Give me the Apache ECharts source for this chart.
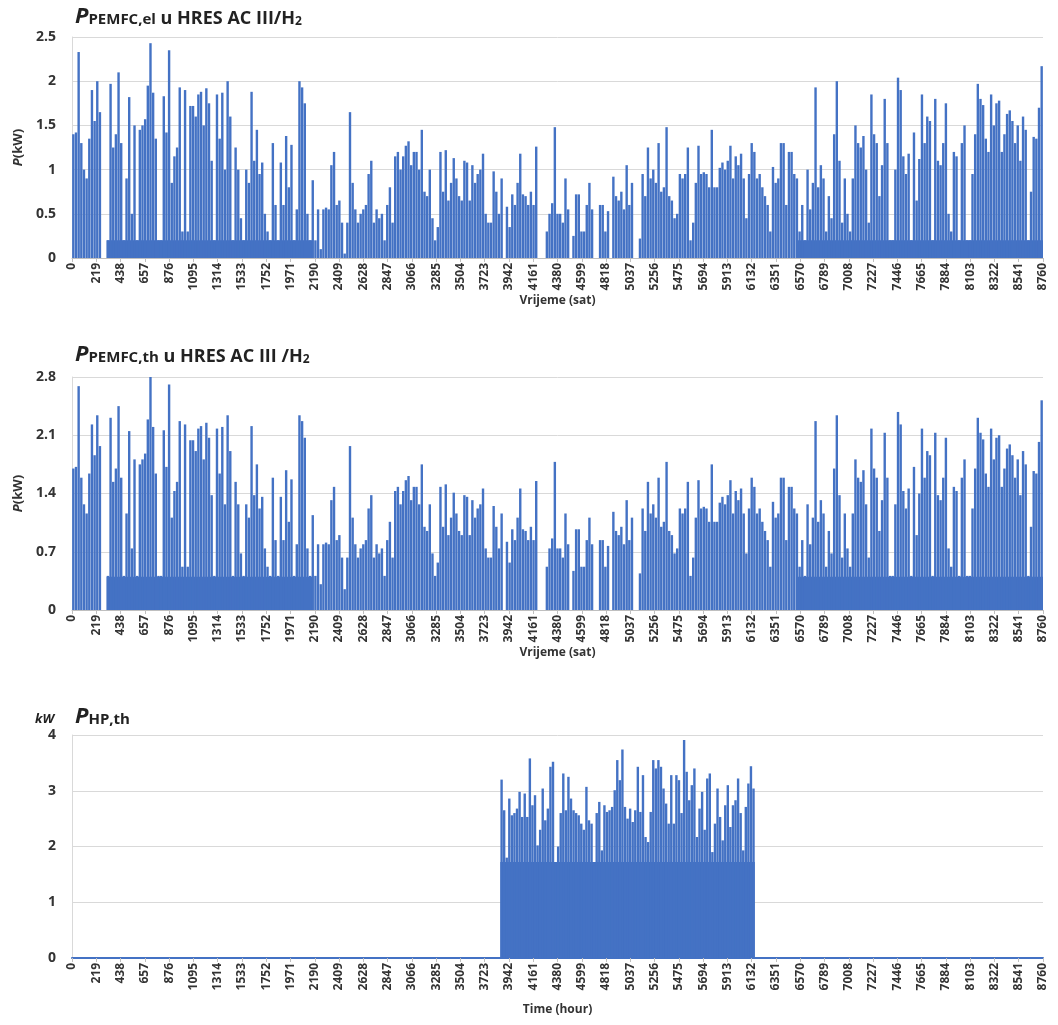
<!DOCTYPE html>
<html><head><meta charset="utf-8">
<script src="https://cdn.jsdelivr.net/npm/echarts@6/dist/echarts.min.js"></script>
<style>html,body{margin:0;padding:0;background:#fff}#c{width:1058px;height:1025px}</style>
</head><body><div id="c"></div>
<script>
// ---- data (daily peak values, hours 0..8760) ----
const HOURS_MAX = 8760;
const HOUR_TICK = 219;
const DAY_HOURS = 24;

// P PEMFC,el (kW), one value per day
const elDaily = [
1.4,1.42,2.33,1.3,1.0,0.9,1.35,1.9,1.55,2.0,
1.65,0,0,0.2,1.97,1.25,1.4,2.1,1.3,0.2,
0.9,1.82,0.5,1.5,0.2,1.45,1.5,1.57,1.95,2.43,
1.87,1.35,0.2,0.2,1.83,1.42,2.35,0.85,1.15,1.25,
1.93,0.3,1.9,0.3,1.72,1.72,1.6,1.85,1.88,1.5,
1.92,1.75,1.1,0.2,1.85,1.35,1.87,1.0,2.0,1.6,
0.2,1.25,1.0,0.45,0.2,1.0,0.85,1.88,1.1,1.45,
0.95,1.08,0.5,0.3,0.2,1.3,0.6,0.2,1.08,0.6,
1.38,0.8,1.28,0.2,0.55,2.0,1.93,1.75,0.5,0.2,
0.88,0.2,0.55,0.1,0.55,0.57,0.55,1.05,1.2,0.6,
0.65,0.4,0.05,0.4,1.65,0.85,0.55,0.4,0.5,0.55,
0.6,0.95,1.1,0.4,0.55,0.45,0.5,0.2,0.6,0.8,
0.4,1.15,1.2,1.0,1.15,1.27,1.32,1.05,1.2,1.2,
1.0,1.45,0.75,0.7,1.0,0.45,0.2,0.35,1.2,0.75,
1.22,0.65,0.85,1.13,0.9,0.7,0.65,1.1,1.08,0.65,
1.05,0.85,0.95,1.0,1.18,0.5,0.4,0.4,0.98,0.75,
0.5,0.9,0,0.58,0.35,0.72,0.6,0.85,1.18,0.72,
0.7,0.6,0.75,0.6,1.26,0,0,0,0.3,0.5,
0.62,1.48,0.5,0.5,0.4,0.9,0.55,0,0.25,0.72,
0.72,0.3,0.3,0.6,0.85,0.55,0,0,0.6,0.6,
0.3,0.53,0,0.92,0.7,0.65,0.75,0.55,1.05,0.6,
0.85,0,0,0.22,0.95,0.7,1.25,0.9,1.0,0.85,
1.3,0.75,0.8,1.48,0.7,0.65,0.45,0.5,0.95,0.9,
0.95,1.25,0.2,0.4,0.85,1.27,0.95,0.97,0.95,0.8,
1.45,0.8,0.8,1.02,1.08,1.0,1.1,1.27,0.9,1.15,
1.05,1.18,0.9,0.45,0.95,1.3,1.2,0.9,0.95,0.8,
0.7,0.6,0.3,1.03,0.85,0.9,1.3,1.3,0.6,1.2,
1.2,0.95,0.9,0.3,0.6,0.2,1.0,0.55,0.85,1.93,
0.8,1.05,0.9,0.3,0.7,0.45,1.4,2.0,1.1,0.4,
0.9,0.5,0.3,0.9,1.5,1.3,1.25,1.38,1.0,0.4,
1.85,1.4,1.3,0.7,1.05,1.8,1.3,0.2,0.2,1.0,
2.04,1.9,1.15,0.95,1.18,0.2,1.42,0.65,1.12,1.85,
1.3,1.6,1.55,0.2,1.8,1.1,1.05,1.3,1.75,0.5,
0.3,1.2,1.15,0.2,1.3,1.5,0.2,0.2,0.95,1.4,
1.97,1.8,1.73,1.35,1.2,1.85,1.5,1.75,1.78,1.2,
1.4,1.63,1.67,1.55,1.3,1.5,1.1,1.6,1.45,0.2,
0.75,1.37,1.35,1.7,2.17
];

// P PEMFC,th (kW), one value per day
const thDaily = [
1.7,1.72,2.69,1.59,1.27,1.16,1.64,2.23,1.86,2.34,
1.97,0,0,0.41,2.31,1.54,1.7,2.45,1.59,0.41,
1.16,2.15,0.74,1.81,0.41,1.75,1.81,1.88,2.29,2.8,
2.2,1.64,0.41,0.41,2.16,1.72,2.71,1.11,1.43,1.54,
2.27,0.52,2.23,0.52,2.04,2.04,1.91,2.18,2.21,1.81,
2.25,2.07,1.38,0.41,2.18,1.64,2.2,1.27,2.34,1.91,
0.41,1.54,1.27,0.68,0.41,1.27,1.11,2.21,1.38,1.75,
1.22,1.36,0.74,0.52,0.41,1.59,0.84,0.41,1.36,0.84,
1.68,1.06,1.57,0.41,0.79,2.34,2.27,2.07,0.74,0.41,
1.14,0.41,0.79,0.31,0.79,0.81,0.79,1.32,1.48,0.84,
0.9,0.63,0.25,0.63,1.97,1.11,0.79,0.63,0.74,0.79,
0.84,1.22,1.38,0.63,0.79,0.68,0.74,0.41,0.84,1.06,
0.63,1.43,1.48,1.27,1.43,1.56,1.61,1.32,1.48,1.48,
1.27,1.75,1.0,0.95,1.27,0.68,0.41,0.57,1.48,1.0,
1.51,0.9,1.11,1.41,1.16,0.95,0.9,1.38,1.36,0.9,
1.32,1.11,1.22,1.27,1.46,0.74,0.63,0.63,1.25,1.0,
0.74,1.16,0,0.82,0.57,0.97,0.84,1.11,1.46,0.97,
0.95,0.84,1.0,0.84,1.55,0,0,0,0.52,0.74,
0.86,1.78,0.74,0.74,0.63,1.16,0.79,0,0.47,0.97,
0.97,0.52,0.52,0.84,1.11,0.79,0,0,0.84,0.84,
0.52,0.77,0,1.18,0.95,0.9,1.0,0.79,1.32,0.84,
1.11,0,0,0.44,1.22,0.95,1.54,1.16,1.27,1.11,
1.59,1.0,1.06,1.78,0.95,0.9,0.68,0.74,1.22,1.16,
1.22,1.54,0.41,0.63,1.11,1.56,1.22,1.24,1.22,1.06,
1.75,1.06,1.06,1.29,1.36,1.27,1.38,1.56,1.16,1.43,
1.32,1.46,1.16,0.68,1.22,1.59,1.48,1.16,1.22,1.06,
0.95,0.84,0.52,1.3,1.11,1.16,1.59,1.59,0.84,1.48,
1.48,1.22,1.16,0.52,0.84,0.41,1.27,0.79,1.11,2.27,
1.06,1.32,1.16,0.52,0.95,0.68,1.7,2.34,1.38,0.63,
1.16,0.74,0.52,1.16,1.81,1.59,1.54,1.68,1.27,0.63,
2.18,1.7,1.59,0.95,1.32,2.13,1.59,0.41,0.41,1.27,
2.38,2.23,1.43,1.22,1.46,0.41,1.72,0.9,1.4,2.18,
1.59,1.91,1.86,0.41,2.13,1.38,1.32,1.59,2.07,0.74,
0.52,1.48,1.43,0.41,1.59,1.81,0.41,0.41,1.22,1.7,
2.31,2.13,2.05,1.64,1.48,2.18,1.81,2.07,2.1,1.48,
1.7,1.94,1.99,1.86,1.59,1.81,1.38,1.91,1.75,0.41,
1.0,1.67,1.64,2.02,2.52
];

// continuous base-load segments [startHour, endHour, kW]
const elFloor = [[312, 2170, 0.2], [6550, 8760, 0.2]];
const thFloor = [[312, 2170, 0.4], [6550, 8760, 0.4]];

// P HP,th (kW): operates only between these hours, peaks in order
const hpStartHour = 3864;
const hpEndHour = 6160;
const hpPeaks = [
3.2,2.65,1.8,2.86,2.56,2.6,2.68,2.98,2.53,2.95,
2.53,3.58,2.74,2.92,2.02,2.3,3.04,2.47,2.68,3.43,
3.52,1.72,2.0,2.6,3.31,2.65,3.25,2.86,2.65,2.6,
2.56,2.41,2.3,3.07,2.47,2.41,1.66,2.6,2.8,1.93,
2.74,2.62,2.65,2.71,3.01,3.55,3.19,3.74,2.71,2.5,
2.68,2.44,2.65,3.43,2.62,3.28,2.17,2.08,2.62,3.55,
3.4,3.55,3.43,3.04,2.77,2.41,3.28,2.41,3.28,3.19,
2.6,3.91,3.34,2.83,3.1,3.4,2.17,2.68,2.98,2.3,
3.22,3.31,1.9,2.41,3.04,2.53,2.11,2.74,3.1,2.35,
2.74,2.83,3.22,2.6,1.93,2.71,3.13,3.44,3.04
];
const hpFloor = [[3864, 6160, 1.72]];

// ---- chart ----
const BLUE = '#4472C4';
const FONT = '"Open Sans", Lato, "Liberation Sans", sans-serif';
const chart = echarts.init(document.getElementById('c'), null, {renderer: 'canvas'});

const grids = [
  {left: 72, right: 15, top: 37, height: 221},
  {left: 72, right: 15, top: 377, height: 233},
  {left: 72, right: 15, top: 735, height: 223}
];
const yCfg = [
  {max: 2.5, interval: 0.5, name: '{i|P}(kW)'},
  {max: 2.8, interval: 0.7, name: '{i|P}(kW)'},
  {max: 4, interval: 1, name: ''}
];
const xNames = ['Vrijeme (sat)', 'Vrijeme (sat)', 'Time (hour)'];
const xNameGaps = [22, 22, 46];

function xAxis(i) {
  return {
    gridIndex: i, type: 'value', min: 0, max: HOURS_MAX, interval: HOUR_TICK,
    name: xNames[i], nameLocation: 'middle', nameGap: xNameGaps[i],
    nameTextStyle: {fontFamily: FONT, fontWeight: 'bold', fontSize: 12, color: '#333',
      backgroundColor: '#fff', padding: [0, 3]},
    axisLine: {show: true, lineStyle: {color: i === 2 ? BLUE : '#bfbfbf', width: i === 2 ? 2 : 1}},
    axisTick: {show: true, length: 4, lineStyle: {color: '#bfbfbf'}},
    axisLabel: {rotate: 90, margin: 5, fontFamily: FONT, fontWeight: 'bold', fontSize: 12, color: '#333',
      showMinLabel: true, showMaxLabel: true, formatter: v => String(v)},
    splitLine: {show: false}
  };
}
function yAxis(i) {
  const c = yCfg[i];
  return {
    gridIndex: i, type: 'value', min: 0, max: c.max, interval: c.interval,
    name: c.name, nameLocation: 'middle', nameGap: 45, nameRotate: 90,
    nameTextStyle: {fontFamily: FONT, fontWeight: 'bold', fontSize: 13, color: '#333',
      rich: {i: {fontFamily: FONT, fontWeight: 'bold', fontStyle: 'italic', fontSize: 13, color: '#333'}}},
    axisLine: {show: true, lineStyle: {color: '#d9d9d9'}},
    axisTick: {show: false},
    axisLabel: {margin: 16, fontFamily: FONT, fontWeight: 'bold', fontSize: 14, color: '#333',
      formatter: v => String(Math.round(v * 10) / 10)},
    splitLine: {show: true, lineStyle: {color: '#d9d9d9', width: 1}}
  };
}
function barSeries(i, data) {
  return {type: 'bar', xAxisIndex: i, yAxisIndex: i, data: data, barWidth: 2.4,
    itemStyle: {color: BLUE}, silent: true, animation: false, z: 3};
}
function floorSeries(i, segs) {
  return segs.map(s => ({
    type: 'line', xAxisIndex: i, yAxisIndex: i, data: [[s[0], s[2]], [s[1], s[2]]],
    showSymbol: false, lineStyle: {width: 0}, areaStyle: {color: BLUE, opacity: 1},
    silent: true, animation: false, z: 2
  }));
}
const dayData = arr => arr.map((v, d) => [d * DAY_HOURS + DAY_HOURS / 2, v]);
const hpStep = (hpEndHour - hpStartHour) / hpPeaks.length;
const hpData = hpPeaks.map((v, k) => [hpStartHour + (k + 0.5) * hpStep, v]);

const titleRich = {
  p: {fontFamily: FONT, fontSize: 22, fontWeight: 'bold', fontStyle: 'italic', color: '#222'},
  s: {fontFamily: FONT, fontSize: 15, fontWeight: 'bold', color: '#222', padding: [6, 0, 0, 0]},
  t: {fontFamily: FONT, fontSize: 18, fontWeight: 'bold', color: '#222', padding: [3, 0, 0, 0]},
  d: {fontFamily: FONT, fontSize: 12, fontWeight: 'bold', color: '#222', padding: [9, 0, 0, 0]},
  k: {fontFamily: FONT, fontSize: 13, fontWeight: 'bold', fontStyle: 'italic', color: '#222', padding: [5, 0, 0, 0]}
};

chart.setOption({
  backgroundColor: '#fff',
  animation: false,
  title: [
    {left: 70, top: 1, text: '{p|P}{s|PEMFC,el}{t| u HRES AC III/H}{d|2}', textStyle: {rich: titleRich}},
    {left: 70, top: 339, text: '{p|P}{s|PEMFC,th}{t| u HRES AC III /H}{d|2}', textStyle: {rich: titleRich}},
    {left: 70, top: 701, text: '{p|P}{s|HP,th}', textStyle: {rich: titleRich}},
    {left: 30, top: 703, text: '{k|kW}', textStyle: {rich: titleRich}}
  ],
  grid: grids,
  xAxis: [xAxis(0), xAxis(1), xAxis(2)],
  yAxis: [yAxis(0), yAxis(1), yAxis(2)],
  series: [
    barSeries(0, dayData(elDaily)), ...floorSeries(0, elFloor),
    barSeries(1, dayData(thDaily)), ...floorSeries(1, thFloor),
    barSeries(2, hpData), ...floorSeries(2, hpFloor)
  ]
});
</script>
</body></html>
